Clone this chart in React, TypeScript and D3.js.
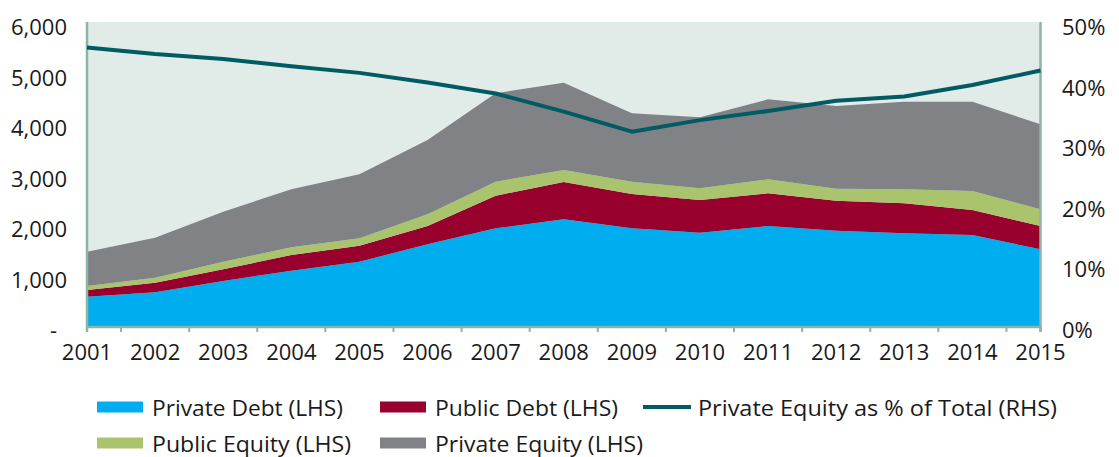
import React from "react";
import * as d3 from "d3";

const years = ["2001","2002","2003","2004","2005","2006","2007","2008","2009","2010","2011","2012","2013","2014","2015"];
const privateDebt = [620,707,931,1135,1313,1657,1974,2152,1974,1887,2020,1927,1875,1842,1558];
const publicDebt = [132,190,231,311,317,363,646,739,679,648,647,594,594,495,462];
const publicEquity = [80,99,151,152,146,231,277,238,244,231,277,237,277,376,330];
const privateEquity = [679,792,990,1148,1267,1472,1751,1728,1354,1406,1584,1638,1735,1768,1684];
const peShare = [46.3,45.2,44.4,43.2,42.1,40.5,38.7,35.7,32.4,34.3,35.8,37.5,38.2,40.1,42.5];
const leftTicks = [0,1000,2000,3000,4000,5000,6000];
const rightTicks = [0,10,20,30,40,50];

const seriesKeys = ["privateDebt","publicDebt","publicEquity","privateEquity"];
const seriesColors: Record<string,string> = {
  privateDebt: "#00AEEF",
  publicDebt: "#98002E",
  publicEquity: "#A9C46D",
  privateEquity: "#808285",
};
const lineColor = "#005B63";
const axisColor = "#8DB5A3";
const font = "'Open Sans', 'Noto Sans', sans-serif";

export default function App() {
  const W = 1119, H = 457;
  const x = d3.scalePoint<string>().domain(years).range([87, 1040.5]);
  const y = d3.scaleLinear().domain([0, 6000]).range([328, 25]);
  const yr = d3.scaleLinear().domain([0, 50]).range([328, 25]);

  const table = years.map((yy, i) => ({
    year: yy,
    privateDebt: privateDebt[i],
    publicDebt: publicDebt[i],
    publicEquity: publicEquity[i],
    privateEquity: privateEquity[i],
  }));
  const stacked = d3.stack<any>().keys(seriesKeys)(table);
  const area = d3.area<any>()
    .x((d) => x(d.data.year) as number)
    .y0((d) => Math.min(y(d[0]), 327))
    .y1((d) => y(d[1]));
  const line = d3.line<number>()
    .x((_, i) => x(years[i]) as number)
    .y((d) => yr(d));

  const step = x.step();
  const tickXs = [87, ...years.slice(0, -1).map((yy) => (x(yy) as number) + step / 2), 1040.5];

  const legendRow1 = [
    { key: "privateDebt", label: "Private Debt (LHS)", x: 97, w: 191 },
    { key: "publicDebt", label: "Public Debt (LHS)", x: 380, w: 183 },
    { key: "line", label: "Private Equity as % of Total (RHS)", x: 643, w: 359 },
  ];
  const legendRow2 = [
    { key: "publicEquity", label: "Public Equity (LHS)", x: 97, w: 199 },
    { key: "privateEquity", label: "Private Equity (LHS)", x: 380, w: 208 },
  ];

  const renderLegend = (items: any[], cy: number) =>
    items.map((it) => (
      <g key={it.key}>
        {it.key === "line" ? (
          <line x1={it.x} x2={it.x + 48} y1={cy} y2={cy} stroke={lineColor} strokeWidth={4} />
        ) : (
          <rect x={it.x} y={cy - 5.5} width={46} height={11} fill={seriesColors[it.key]} />
        )}
        <text
          x={it.x + 55}
          y={cy}
          dominantBaseline="central"
          fontSize={22}
          fontFamily={font}
          fill="#1a1a1a"
          textLength={it.w}
          lengthAdjust="spacingAndGlyphs"
        >
          {it.label}
        </text>
      </g>
    ));

  return (
    <svg width={W} height={H} style={{ position: "absolute", left: 0, top: 0 }}>
      <rect x={0} y={0} width={W} height={H} fill="#ffffff" />
      <rect x={87} y={22} width={1040.5 - 87} height={305} fill="#E1EBE8" />
      {stacked.map((s) => (
        <path key={s.key} d={area(s as any) || ""} fill={seriesColors[s.key]} />
      ))}
      <line x1={87} x2={87} y1={22} y2={332} stroke={axisColor} strokeWidth={2.5} />
      <line x1={1040.5} x2={1040.5} y1={22} y2={332} stroke={axisColor} strokeWidth={2.5} />
      <line x1={86} x2={1041.5} y1={327} y2={327} stroke={axisColor} strokeWidth={2.5} />
      {tickXs.map((tx, i) => (
        <line key={i} x1={tx} x2={tx} y1={327} y2={332} stroke={axisColor} strokeWidth={2} />
      ))}
      <path d={line(peShare) || ""} fill="none" stroke={lineColor} strokeWidth={4} strokeLinejoin="round" />
      {leftTicks.map((t) => (
        <text
          key={t}
          x={t === 0 ? 57 : 67}
          y={y(t) + 1}
          textAnchor="end"
          dominantBaseline="central"
          fontSize={22}
          fontFamily={font}
          fill="#1a1a1a"
        >
          {t === 0 ? "-" : d3.format(",")(t)}
        </text>
      ))}
      {rightTicks.map((t) => (
        <text
          key={t}
          x={1062}
          y={yr(t) + 1}
          textAnchor="start"
          dominantBaseline="central"
          fontSize={22}
          fontFamily={font}
          fill="#1a1a1a"
        >
          {t + "%"}
        </text>
      ))}
      {years.map((yy) => (
        <text
          key={yy}
          x={x(yy) as number}
          y={351}
          textAnchor="middle"
          dominantBaseline="central"
          fontSize={22}
          fontFamily={font}
          fill="#1a1a1a"
        >
          {yy}
        </text>
      ))}
      {renderLegend(legendRow1, 407)}
      {renderLegend(legendRow2, 443)}
    </svg>
  );
}
